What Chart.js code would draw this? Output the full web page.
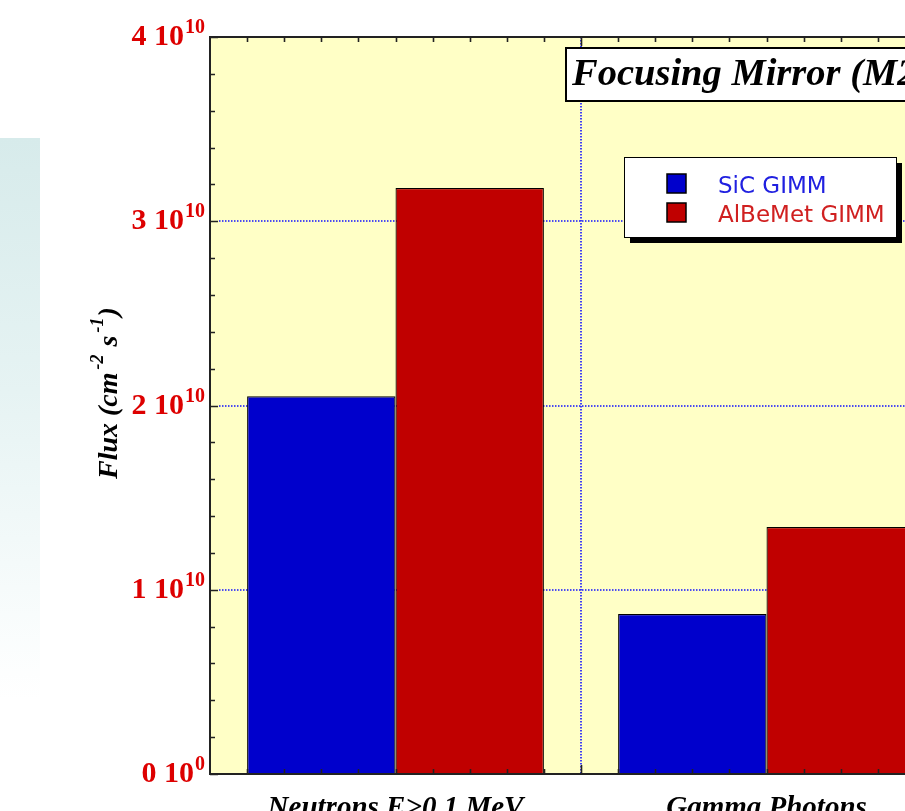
<!DOCTYPE html>
<html>
<head>
<meta charset="utf-8">
<title>Focusing Mirror (M2) flux</title>
<script src="https://cdn.jsdelivr.net/npm/chart.js@4"></script>
<style>
    html, body { margin: 0; padding: 0; background: #fff; width: 905px; height: 811px; overflow: hidden; }
    #side-panel { position: absolute; left: 0; top: 138px; width: 40px; height: 562px;
        background: linear-gradient(to bottom, #d7ebeb 0%, #e6f3f3 45%, #f6fbfb 80%, #ffffff 100%); }
    #wrap { position: absolute; left: 0; top: 0; width: 1000px; height: 840px; }
</style>
</head>
<body>
<div id="side-panel"></div>
<div id="wrap"><canvas id="flux-chart" width="1000" height="840"></canvas></div>
<script>
// values
const categories = ['Neutrons E>0.1 MeV', 'Gamma Photons'];
const seriesNames = ['SiC GIMM', 'AlBeMet GIMM'];
const sicFlux = [2.05e10, 0.868e10];
const albemetFlux = [3.18e10, 1.34e10];
const yTickValues = [0, 1e10, 2e10, 3e10, 4e10];
const chartTitle = 'Focusing Mirror (M2)';

const barColors = ['#0000cc', '#c00000'];
const legendTextColors = ['#2020e0', '#d02020'];
const serif = '"Liberation Serif", "Times New Roman", serif';

function tickLabelParts(v) {
    if (v === 0) return ['0 10', '0'];
    const exp = Math.floor(Math.log10(v));
    return [Math.round(v / Math.pow(10, exp)) + ' 10', String(exp)];
}

const decorPlugin = {
    id: 'fluxDecor',
    beforeDraw(chart) {
        const { ctx, chartArea: a } = chart;
        ctx.save();
        ctx.fillStyle = '#ffffc6';
        ctx.fillRect(a.left, a.top, a.right - a.left, a.bottom - a.top);
        ctx.restore();
    },
    beforeDatasetsDraw(chart) {
        const { ctx, chartArea: a, scales: { x, y } } = chart;
        ctx.save();
        ctx.strokeStyle = '#1010ff';
        ctx.lineWidth = 1.6;
        ctx.setLineDash([1.5, 1.5]);
        yTickValues.forEach(v => {
            if (v <= y.min || v >= y.max) return;
            const py = Math.round(y.getPixelForValue(v));
            ctx.beginPath();
            ctx.moveTo(a.left + 9, py);
            ctx.lineTo(a.right, py);
            ctx.stroke();
        });
        for (let i = 1; i < categories.length; i++) {
            const px = Math.round((x.getPixelForValue(i - 1) + x.getPixelForValue(i)) / 2);
            ctx.beginPath();
            ctx.moveTo(px, a.top);
            ctx.lineTo(px, a.bottom);
            ctx.stroke();
        }
        ctx.restore();
    },
    afterDraw(chart) {
        const { ctx, chartArea: a, scales: { x, y } } = chart;
        ctx.save();

        // frame
        ctx.strokeStyle = '#222';
        ctx.lineWidth = 2;
        ctx.strokeRect(a.left, a.top, a.right - a.left, a.bottom - a.top);

        // ticks on the y sides, 5 per major step
        ctx.lineWidth = 1.6;
        for (let i = 0; i < yTickValues.length; i++) {
            const v0 = yTickValues[i];
            const steps = i < yTickValues.length - 1 ? 5 : 1;
            const v1 = i < yTickValues.length - 1 ? yTickValues[i + 1] : v0;
            for (let k = 0; k < steps; k++) {
                const v = v0 + (v1 - v0) * k / 5;
                const py = Math.round(y.getPixelForValue(v)) + 0.5;
                const len = k === 0 ? 8 : 5;
                ctx.beginPath();
                ctx.moveTo(a.left, py); ctx.lineTo(a.left + len, py);
                ctx.moveTo(a.right, py); ctx.lineTo(a.right - len, py);
                ctx.stroke();
            }
        }
        // ticks on top and bottom, 10 per category
        const cw = x.getPixelForValue(1) - x.getPixelForValue(0);
        for (let k = 1; k < categories.length * 10; k++) {
            const px = Math.round(a.left + k * cw / 10) + 0.5;
            const len = k % 10 === 0 ? 9 : 5;
            ctx.beginPath();
            ctx.moveTo(px, a.top); ctx.lineTo(px, a.top + len);
            ctx.moveTo(px, a.bottom); ctx.lineTo(px, a.bottom - len);
            ctx.stroke();
        }

        // y tick labels with superscript exponent
        ctx.fillStyle = '#dd0000';
        ctx.textAlign = 'right';
        ctx.textBaseline = 'alphabetic';
        yTickValues.forEach(v => {
            const [main, sup] = tickLabelParts(v);
            const py = y.getPixelForValue(v);
            const right = a.left - 5;
            ctx.font = 'bold 20px ' + serif;
            const supW = ctx.measureText(sup).width;
            ctx.fillText(sup, right, py - 4);
            ctx.font = 'bold 30px ' + serif;
            ctx.fillText(main, right - supW - 1, py + 8);
        });

        // y axis title
        ctx.save();
        ctx.translate(117, 479);
        ctx.rotate(-Math.PI / 2);
        ctx.fillStyle = '#000';
        ctx.textAlign = 'left';
        const titleParts = [['Flux (cm', false], ['-2', true], [' s', false], ['-1', true], [')', false]];
        let tx = 0;
        titleParts.forEach(([t, sup]) => {
            ctx.font = sup ? 'italic bold 18px ' + serif : 'italic bold 28px ' + serif;
            ctx.fillText(t, tx + (sup ? 3 : 0), sup ? -14 : 0);
            tx += ctx.measureText(t).width + (sup ? 4 : 0);
        });
        ctx.restore();

        // title box
        ctx.font = 'italic bold 38.5px ' + serif;
        const tw = ctx.measureText(chartTitle).width;
        const bx = a.left + 356, by = a.top + 11;
        ctx.fillStyle = '#fff';
        ctx.fillRect(bx, by, tw + 16, 53);
        ctx.strokeStyle = '#000';
        ctx.lineWidth = 2;
        ctx.strokeRect(bx, by, tw + 16, 53);
        ctx.fillStyle = '#000';
        ctx.textAlign = 'left';
        ctx.fillText(chartTitle, bx + 6, by + 37);

        // legend box with shadow
        const lx = a.left + 414, ly = a.top + 120, lw = 272, lh = 80;
        ctx.fillStyle = '#000';
        ctx.fillRect(lx + 6, ly + 6, lw, lh);
        ctx.fillStyle = '#fff';
        ctx.fillRect(lx, ly, lw, lh);
        ctx.lineWidth = 1;
        ctx.strokeRect(lx + 0.5, ly + 0.5, lw, lh);
        chart.data.datasets.forEach((ds, i) => {
            const sy = ly + 17 + i * 29;
            ctx.fillStyle = ds.backgroundColor;
            ctx.fillRect(lx + 43, sy, 19, 19);
            ctx.lineWidth = 1.5;
            ctx.strokeStyle = '#000';
            ctx.strokeRect(lx + 43, sy, 19, 19);
            ctx.font = '23px "DejaVu Sans", sans-serif';
            ctx.fillStyle = legendTextColors[i];
            ctx.fillText(ds.label, lx + 94, sy + 19);
        });

        ctx.restore();
    }
};

const chart = new Chart(document.getElementById('flux-chart').getContext('2d'), {
    type: 'bar',
    data: {
        labels: categories,
        datasets: [
            { label: seriesNames[0], data: sicFlux, backgroundColor: barColors[0] },
            { label: seriesNames[1], data: albemetFlux, backgroundColor: barColors[1] }
        ]
    },
    options: {
        responsive: false,
        animation: false,
        layout: { padding: { left: 0, top: 37, right: 48, bottom: 0 } },
        datasets: {
            bar: { borderColor: '#000', borderWidth: 1.2, categoryPercentage: 0.8, barPercentage: 1.0 }
        },
        plugins: {
            legend: { display: false },
            title: { display: false },
            tooltip: { enabled: false }
        },
        scales: {
            x: {
                offset: true,
                grid: { display: false, drawTicks: false, tickLength: 0 },
                border: { display: false },
                ticks: {
                    color: '#000',
                    padding: 17,
                    maxRotation: 0,
                    font: { family: serif, size: 29, style: 'italic', weight: 'bold' }
                },
                afterFit(scale) { scale.height = 66; }
            },
            y: {
                min: 0,
                max: 4e10,
                grid: { display: false },
                border: { display: false },
                ticks: { display: false, stepSize: 1e10 },
                afterFit(scale) { scale.width = 210; }
            }
        }
    },
    plugins: [decorPlugin]
});
</script>
</body>
</html>
